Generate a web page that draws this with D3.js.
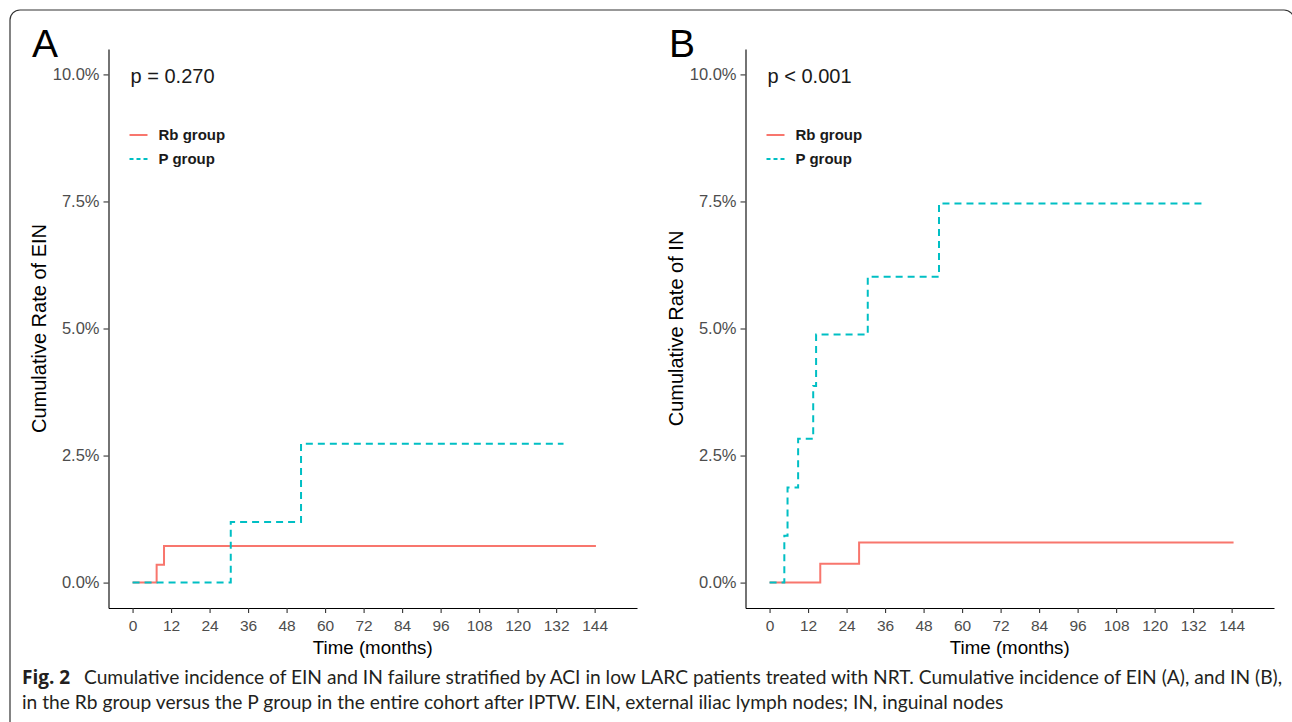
<!DOCTYPE html>
<html><head><meta charset="utf-8">
<script src="https://cdn.jsdelivr.net/npm/d3@7"></script>
<style>body{margin:0;background:#fff}svg{display:block}</style>
</head><body>
<svg id="c" width="1292" height="722"></svg>
<script>
// ---- data ----
const xTicks = [0,12,24,36,48,60,72,84,96,108,120,132,144];
const yTicks = [0,0.025,0.05,0.075,0.10];
const groups = ["Rb group","P group"];
const colors = ["#F8766D","#00BFC4"];
// Panel A (EIN)
const aRbTime = [0, 7.5, 9.8, 144.4];
const aRbRate = [0, 0.0035, 0.0072, 0.0072];
const aPTime  = [0, 30.6, 52.5, 134.3];
const aPRate  = [0, 0.0119, 0.0273, 0.0273];
// Panel B (IN)
const bRbTime = [0, 15.8, 27.9, 144.6];
const bRbRate = [0, 0.0037, 0.0079, 0.0079];
const bPTime  = [0, 4.6, 5.6, 8.9, 13.6, 14.5, 30.6, 52.8, 134.8];
const bPRate  = [0, 0.0092, 0.0187, 0.0283, 0.0387, 0.0488, 0.0602, 0.0746, 0.0746];

const panels = [
  {letter:"A", p:"p = 0.270", ytitle:"Cumulative Rate of EIN", x0:108.5, x1:637,
   series:[[aRbTime,aRbRate],[aPTime,aPRate]], lx:32},
  {letter:"B", p:"p < 0.001", ytitle:"Cumulative Rate of IN", x0:745.5, x1:1274,
   series:[[bRbTime,bRbRate],[bPTime,bPRate]], lx:669}
];

const svg = d3.select("#c");
const font = "'Liberation Sans', Arial, sans-serif";

// frame
svg.append("rect").attr("x",10).attr("y",10).attr("width",1284).attr("height",760)
  .attr("rx",10).attr("fill","none").attr("stroke","#333").attr("stroke-width",1.2);

const yTop = 49, yBot = 608;
panels.forEach(P => {
  const x = d3.scaleLinear().domain([-7.5,157.2]).range([P.x0,P.x1]);
  const y = d3.scaleLinear().domain([-0.005,0.105]).range([yBot,yTop]);
  const g = svg.append("g");

  const xa = g.append("g").attr("transform",`translate(0,${yBot})`)
    .call(d3.axisBottom(x).tickValues(xTicks).tickSize(5).tickPadding(4).tickSizeOuter(0));
  const ya = g.append("g").attr("transform",`translate(${P.x0},0)`)
    .call(d3.axisLeft(y).tickValues(yTicks).tickSize(5).tickPadding(4).tickSizeOuter(0)
      .tickFormat(d3.format(".1%")));
  [xa,ya].forEach(a=>{
    a.select(".domain").attr("stroke","#000").attr("stroke-width",1.1);
    a.selectAll(".tick line").attr("stroke","#333").attr("stroke-width",1.1);
    a.selectAll(".tick text").attr("fill","#4D4D4D").style("font-family",font);
  });
  xa.selectAll(".tick text").style("font-size","15.5px").attr("dy","0.9em");
  ya.selectAll(".tick text").style("font-size","16.5px");

  const line = d3.line().curve(d3.curveStepAfter).x(d=>x(d[0])).y(d=>y(d[1]));
  P.series.forEach((s,i)=>{
    const pts = s[0].map((t,k)=>[t,s[1][k]]);
    g.append("path").attr("d",line(pts)).attr("fill","none")
      .attr("stroke",colors[i]).attr("stroke-width",2)
      .attr("stroke-dasharray", i===1 ? "7,5" : null);
  });

  // legend
  groups.forEach((name,i)=>{
    const ly = 135 + i*24;
    g.append("line").attr("x1",P.x0+21).attr("x2",P.x0+39).attr("y1",ly).attr("y2",ly)
      .attr("stroke",colors[i]).attr("stroke-width",2)
      .attr("stroke-dasharray", i===1 ? "4,3" : null);
    g.append("text").attr("x",P.x0+50).attr("y",ly).attr("dy","0.35em")
      .style("font-family",font).style("font-size","15px").style("font-weight","bold")
      .attr("fill","#1a1a1a").text(name);
  });

  g.append("text").attr("x",x(0)-2).attr("y",83).style("font-family",font)
    .style("font-size","20px").attr("fill","#1a1a1a").text(P.p);

  g.append("text").attr("x",(P.x0+P.x1)/2).attr("y",654).attr("text-anchor","middle")
    .style("font-family",font).style("font-size","18.7px").attr("fill","#000").text("Time (months)");
  g.append("text").attr("transform",`translate(${P.x0-63},${(yTop+yBot)/2}) rotate(-90)`)
    .attr("text-anchor","middle").style("font-family",font).style("font-size","20px")
    .attr("fill","#000").text(P.ytitle);

  svg.append("text").attr("x",P.lx).attr("y",57).style("font-family",font)
    .style("font-size","39px").attr("fill","#000").text(P.letter);
});

// caption
const capFont = "Lato, 'Open Sans', sans-serif";
const line1 = "Cumulative incidence of EIN and IN failure stratified by ACI in low LARC patients treated with NRT. Cumulative incidence of EIN (A), and IN (B),";
const line2 = "in the Rb group versus the P group in the entire cohort after IPTW. EIN, external iliac lymph nodes; IN, inguinal nodes";
svg.append("text").attr("x",22).attr("y",684).style("font-family","'Open Sans', sans-serif")
  .style("font-size","19px").style("font-weight","bold").attr("fill","#231f20").text("Fig. 2");
const t1 = svg.append("text").attr("x",84).attr("y",684).style("font-family",capFont)
  .style("font-size","16px").attr("fill","#231f20").text(line1);
const w = t1.node().getComputedTextLength();
const fs = 16*(1283-84)/w;
t1.style("font-size",fs+"px");
svg.append("text").attr("x",22).attr("y",709).style("font-family",capFont)
  .style("font-size",fs+"px").attr("fill","#231f20").text(line2);
</script>
</body></html>
